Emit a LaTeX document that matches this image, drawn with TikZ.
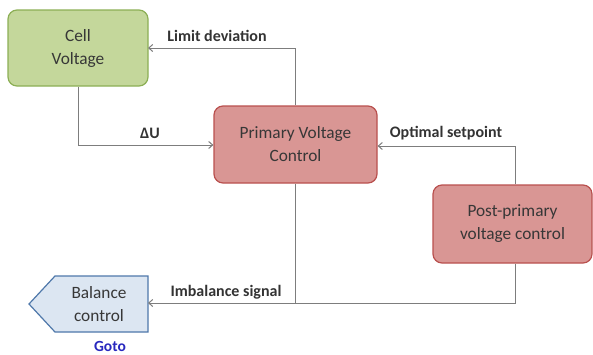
\documentclass[tikz,border=0pt]{standalone}
\usepackage{fontspec}
\setmainfont{Carlito}
\usetikzlibrary{arrows.meta}
\definecolor{gfill}{RGB}{196,215,155}
\definecolor{gdraw}{RGB}{140,175,85}
\definecolor{rfill}{RGB}{217,150,148}
\definecolor{rdraw}{RGB}{185,80,78}
\definecolor{bfill}{RGB}{220,230,242}
\definecolor{bdraw}{RGB}{79,120,170}
\definecolor{txt}{RGB}{55,55,55}
\definecolor{lcol}{RGB}{125,125,125}
\definecolor{gotoc}{RGB}{40,40,190}
\tikzset{
  boxg/.style={draw=gdraw, fill=gfill, line width=1.2pt, rounded corners=9pt, align=center, text=txt, font=\fontsize{17.3}{23}\selectfont},
  boxr/.style={draw=rdraw, fill=rfill, line width=1.2pt, rounded corners=9pt, align=center, text=txt, font=\fontsize{17.3}{23}\selectfont},
  conn/.style={draw=lcol, line width=1pt, -{Straight Barb[length=4pt,width=7pt]}},
  plain/.style={draw=lcol, line width=1pt},
  lab/.style={font=\bfseries\fontsize{16}{18}\selectfont, text=black!80, inner sep=0pt},
}
\begin{document}
\begin{tikzpicture}[x=1pt,y=1pt]
\useasboundingbox (0,0) rectangle (593,-354);
\node[boxg, minimum width=140pt, minimum height=76pt] (cell) at (78,-48) {Cell\\Voltage};
\node[boxr, minimum width=163pt, minimum height=77pt] (pvc) at (295.5,-144.5) {Primary Voltage\\Control};
\node[boxr, minimum width=159pt, minimum height=78pt] (post) at (512.5,-224) {Post-primary\\voltage control};
\draw[draw=bdraw, fill=bfill, line width=1.2pt] (55,-276) -- (148,-276) -- (148,-332) -- (55,-332) -- (29,-304) -- cycle;
\node[align=center, text=txt, font=\fontsize{17.3}{23}\selectfont, minimum width=93pt, minimum height=56pt, inner sep=0pt] (bal) at (99,-304) {Balance\\control};
\node[font=\bfseries\fontsize{15.5}{17}\selectfont, text=gotoc] (goto) at (110,-346) {Goto};

\coordinate (c1) at (295,-48);
\coordinate (c2) at (78,-145);
\coordinate (c3) at (515,-146);
\coordinate (c4) at (515,-303);
\coordinate (c5) at (295,-303);

\draw[conn] (pvc.north -| c1) -- (c1) -- (148,-48);
\draw[conn] (cell.south -| c2) -- (c2) -- (pvc.west |- c2);
\draw[conn] (post.north -| c3) -- (c3) -- (pvc.east |- c3);
\draw[plain] (post.south -| c4) -- (c4) -- (c5);
\draw[conn] (pvc.south -| c5) -- (c5) -- (148,-303);

\node[lab] (l1) at (217,-36) {Limit deviation};
\node[lab] (l2) at (150,-133) {ΔU};
\node[lab] (l3) at (446,-133) {Optimal setpoint};
\node[lab] (l4) at (226,-292) {Imbalance signal};
\end{tikzpicture}
\end{document}
